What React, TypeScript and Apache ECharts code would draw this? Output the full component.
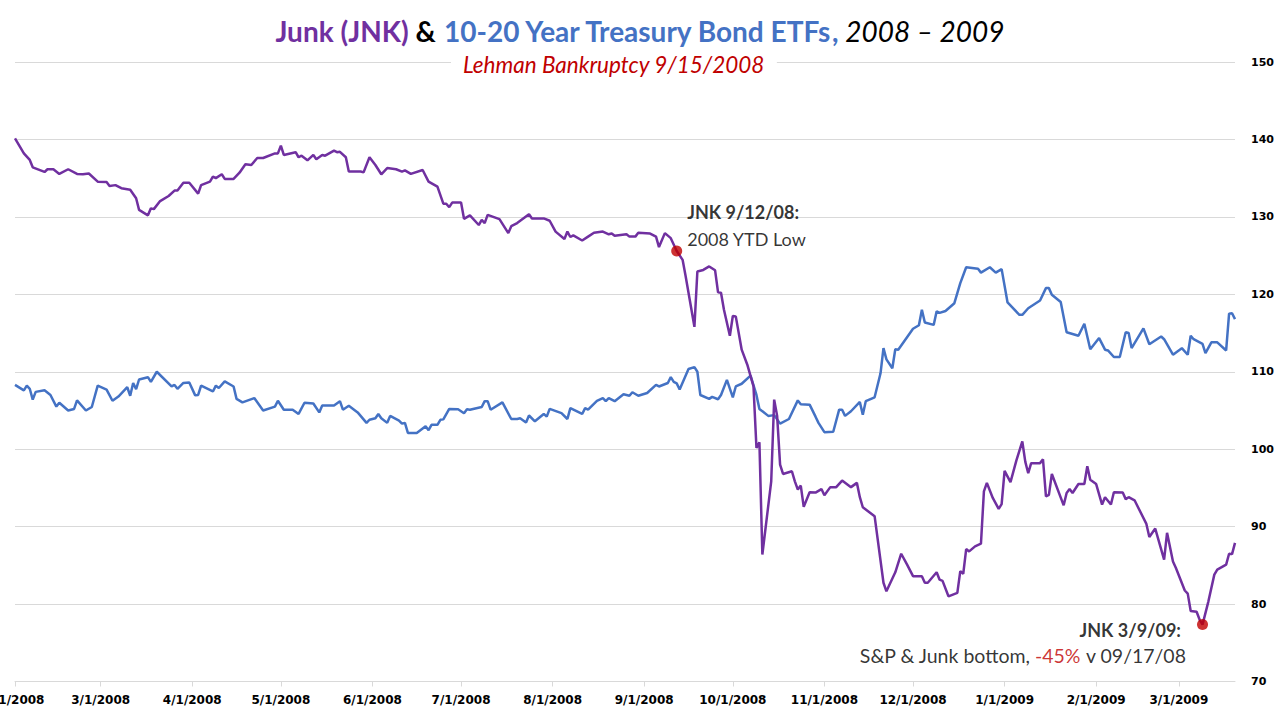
import React, { useEffect, useRef } from "react";
import * as echarts from "echarts";

// Day offsets are counted from the first day on the axis (Feb 1, 2008)
const START_DATE = "2008-02-01";
const END_DAY = 413; // Mar 20, 2009

const MONTH_TICKS = [
  "2008-02-01", "2008-03-01", "2008-04-01", "2008-05-01", "2008-06-01", "2008-07-01",
  "2008-08-01", "2008-09-01", "2008-10-01", "2008-11-01", "2008-12-01", "2009-01-01",
  "2009-02-01", "2009-03-01",
];

const JNK_DAYS = [
  0, 3, 5, 6, 10, 11, 13, 15, 18, 21, 23, 25, 28, 31, 32, 34, 36, 39, 41, 42, 45, 46, 47, 49, 52,
  54, 55, 57, 59, 62, 63, 66, 67, 68, 70, 71, 74, 76, 78, 80, 82, 84, 88, 89, 90, 91, 95, 96, 97,
  99, 101, 102, 104, 105, 108, 109, 110, 112, 113, 117, 118, 120, 122, 124, 126, 129, 131, 132,
  134, 138, 140, 143, 145, 146, 147, 148, 151, 152, 154, 157, 158, 159, 160, 164, 167, 168, 170,
  174, 175, 179, 181, 183, 186, 187, 188, 189, 192, 194, 196, 199, 201, 202, 203, 207, 208, 210,
  211, 215, 217, 218, 220, 222, 224, 226, 227, 230, 231, 233, 235, 237, 238, 239, 240, 242, 243,
  244, 246, 248, 250, 251, 252, 253, 256, 257, 258, 259, 260, 263, 264, 265, 266, 267, 269, 271,
  273, 274, 276, 278, 280, 283, 285, 286, 287, 291, 294, 295, 298, 300, 302, 304, 307, 308, 309,
  312, 313, 314, 316, 319, 320, 321, 322, 323, 325, 327, 328, 329, 331, 333, 334, 335, 337, 339,
  341, 342, 343, 344, 347, 348, 349, 350, 351, 355, 356, 357, 358, 360, 362, 363, 364, 366, 368,
  369, 371, 372, 375, 376, 377, 379, 383, 384, 386, 389, 390, 392, 393, 396, 397, 398, 400, 401,
  402, 404, 406, 407, 410, 411, 412, 413,
];
const JNK_VALUES = [
  140.15, 138.2, 137.35, 136.4, 135.8, 136.15, 136.15, 135.55, 136.15, 135.55, 135.5, 135.6,
  134.55, 134.5, 134.0, 134.1, 133.7, 133.5, 132.4, 130.9, 130.2, 131.1, 131.0, 132.0, 132.7,
  133.4, 133.4, 134.4, 134.4, 133.0, 134.1, 134.55, 135.2, 135.0, 135.5, 134.9, 134.9, 135.7,
  136.8, 136.7, 137.6, 137.6, 138.2, 138.2, 139.2, 138.0, 138.35, 137.7, 137.9, 137.3, 138.0,
  137.45, 138.0, 137.9, 138.55, 138.35, 138.4, 137.7, 135.85, 135.85, 135.75, 137.7, 136.7,
  135.5, 136.3, 136.15, 135.85, 136.0, 135.55, 136.05, 134.55, 133.9, 131.7, 131.7, 131.25,
  131.85, 131.85, 129.75, 130.2, 128.95, 129.6, 129.2, 130.25, 129.7, 127.9, 128.8, 129.2,
  130.35, 129.8, 129.8, 129.5, 128.1, 127.15, 128.1, 127.4, 127.6, 126.95, 127.45, 127.95,
  128.1, 127.75, 127.85, 127.55, 127.75, 127.45, 127.45, 127.95, 127.85, 127.45, 126.1, 127.9,
  127.25, 125.6, 124.45, 122.4, 115.8, 122.95, 123.15, 123.6, 123.1, 120.25, 120.2, 118.0,
  114.65, 117.2, 117.15, 112.85, 110.8, 108.1, 100.15, 100.9, 86.4, 95.85, 106.4, 104.3, 98.0,
  96.8, 97.15, 95.85, 94.8, 95.3, 92.55, 94.45, 94.4, 94.85, 94.05, 95.1, 95.1, 95.95, 95.1,
  95.65, 93.8, 92.5, 91.35, 82.75, 81.65, 84.1, 86.5, 85.1, 83.6, 83.6, 82.75, 82.75, 84.1,
  83.15, 83.0, 81.0, 81.45, 84.25, 83.9, 87.1, 86.8, 87.45, 87.8, 94.55, 95.65, 93.7, 92.3,
  92.9, 97.2, 95.75, 98.55, 101.0, 98.4, 96.9, 98.2, 98.2, 98.7, 93.9, 94.1, 96.8, 92.75, 94.35,
  94.85, 94.35, 95.5, 95.5, 97.8, 96.05, 95.5, 92.85, 93.8, 92.85, 94.45, 94.4, 93.55, 93.8,
  93.4, 90.35, 88.65, 89.75, 85.75, 89.2, 85.5, 84.65, 81.75, 81.35, 79.1, 79.0, 78.0, 77.35,
  80.35, 83.8, 84.45, 85.1, 86.5, 86.45, 87.9,
];

const TLH_DAYS = [
  0, 3, 4, 5, 6, 7, 10, 12, 14, 15, 18, 20, 21, 24, 26, 28, 31, 33, 35, 38, 39, 40, 41, 42, 45,
  46, 48, 53, 54, 55, 57, 59, 61, 62, 63, 67, 68, 69, 71, 74, 75, 77, 81, 84, 88, 89, 91, 94, 96,
  98, 101, 103, 104, 108, 110, 111, 113, 116, 119, 120, 122, 123, 124, 126, 127, 130, 131, 132,
  133, 136, 139, 140, 141, 143, 144, 145, 147, 150, 152, 153, 154, 158, 159, 160, 161, 165, 168,
  170, 171, 173, 174, 176, 179, 180, 181, 185, 187, 188, 192, 193, 194, 197, 199, 200, 201, 203,
  206, 208, 209, 211, 214, 217, 218, 221, 222, 223, 224, 225, 228, 230, 231, 232, 235, 236, 238,
  239, 241, 243, 244, 246, 249, 251, 252, 255, 257, 259, 262, 265, 266, 269, 271, 272, 274, 277,
  279, 280, 281, 283, 286, 287, 288, 291, 293, 294, 295, 297, 298, 299, 304, 306, 307, 308, 311,
  312, 313, 315, 318, 320, 322, 326, 327, 330, 332, 334, 336, 340, 341, 343, 347, 349, 350, 351,
  354, 356, 360, 362, 364, 367, 369, 370, 372, 374, 376, 377, 378, 382, 384, 388, 389, 392, 395,
  397, 398, 399, 402, 403, 405, 407, 410, 411, 412, 413,
];
const TLH_VALUES = [
  108.3, 107.6, 108.2, 107.8, 106.4, 107.4, 107.6, 107.0, 105.5, 106.0, 105.0, 105.2, 106.3,
  105.0, 105.45, 108.2, 107.7, 106.25, 106.8, 108.0, 106.9, 108.55, 107.75, 109.0, 109.3, 108.7,
  110.0, 108.1, 108.3, 107.8, 108.55, 108.6, 106.95, 107.0, 108.2, 107.45, 108.2, 107.9, 108.75,
  108.1, 106.5, 106.05, 106.6, 105.0, 105.5, 106.25, 105.1, 105.1, 104.55, 106.0, 105.9, 104.75,
  105.65, 105.65, 106.2, 105.1, 105.6, 104.75, 103.4, 103.8, 104.0, 104.55, 104.0, 103.4, 104.3,
  103.7, 103.3, 103.4, 102.1, 102.1, 102.95, 102.45, 103.15, 103.15, 103.8, 103.85, 105.2,
  105.15, 104.65, 105.15, 105.1, 105.45, 106.2, 106.2, 105.1, 106.05, 103.9, 103.9, 104.0,
  103.45, 104.35, 103.6, 104.55, 104.2, 105.2, 104.65, 103.9, 105.3, 104.55, 105.3, 105.1,
  106.25, 106.6, 106.2, 106.6, 106.2, 107.1, 106.9, 107.35, 106.9, 107.25, 108.3, 108.1, 108.55,
  109.3, 108.7, 108.5, 107.7, 110.35, 110.6, 110.0, 107.0, 106.5, 106.75, 106.45, 107.0, 108.95,
  106.7, 108.1, 108.45, 109.5, 107.0, 105.2, 104.3, 104.4, 103.3, 103.9, 106.3, 105.8, 105.75,
  104.2, 103.4, 102.2, 102.25, 105.1, 105.1, 104.3, 104.9, 106.1, 104.45, 106.2, 106.7, 109.8,
  113.05, 111.6, 110.45, 112.9, 112.85, 115.55, 116.0, 118.0, 116.35, 116.05, 117.8, 117.6,
  117.85, 118.85, 121.45, 123.5, 123.3, 122.8, 123.5, 122.8, 123.25, 118.95, 117.35, 117.35,
  118.2, 119.2, 120.8, 120.8, 119.95, 119.0, 115.1, 114.65, 116.2, 112.9, 114.35, 112.85, 112.75,
  111.9, 111.9, 115.1, 115.0, 113.05, 115.6, 113.55, 114.55, 114.2, 112.2, 113.05, 112.2, 114.65,
  114.2, 113.6, 112.4, 113.8, 113.8, 112.75, 117.5, 117.55, 116.8,
];

const MARKED_DATES = ["2008-09-12", "2009-03-09"];
const MARKED_VALUES = [125.6, 77.35];

const PURPLE = "#7030a0";
const BLUE = "#4472c4";
const RED = "#c00000";
const GRID = "#d9d9d9";
const TEXT_FONT = "Lato, 'Open Sans', sans-serif";
const AXIS_FONT = "'DejaVu Sans', Verdana, sans-serif";

function parseDate(s: string): Date {
  const [y, m, d] = s.split("-").map(Number);
  return new Date(y, m - 1, d);
}
function dayToTime(day: number): number {
  const b = parseDate(START_DATE);
  return new Date(b.getFullYear(), b.getMonth(), b.getDate() + day).getTime();
}
function fmtDate(v: number): string {
  const d = new Date(v);
  return `${d.getMonth() + 1}/${d.getDate()}/${d.getFullYear()}`;
}

export default function App() {
  const ref = useRef<HTMLDivElement>(null);
  useEffect(() => {
    if (!ref.current) return;
    const chart = echarts.init(ref.current, null, { renderer: "svg" });
    const monthTimes = MONTH_TICKS.map((s) => parseDate(s).getTime());
    const jnk = JNK_DAYS.map((d, i) => [dayToTime(d), JNK_VALUES[i]]);
    const tlh = TLH_DAYS.map((d, i) => [dayToTime(d), TLH_VALUES[i]]);
    const marked = MARKED_DATES.map((s, i) => [parseDate(s).getTime(), MARKED_VALUES[i]]);

    const annotStyle = {
      b: { fontFamily: TEXT_FONT, fontSize: 18, fontWeight: "bold", color: "#000" },
      n: { fontFamily: TEXT_FONT, fontSize: 18, color: "#000" },
      r: { fontFamily: TEXT_FONT, fontSize: 18, color: RED },
    };
    const annotStyle2 = {
      b: { fontFamily: TEXT_FONT, fontSize: 18, fontWeight: "bold", color: "#000", padding: [0, 5, 0, 0] },
      n: { fontFamily: TEXT_FONT, fontSize: 19.5, color: "#000" },
      r: { fontFamily: TEXT_FONT, fontSize: 19.5, color: RED },
    };

    chart.setOption({
      animation: false,
      backgroundColor: "#fff",
      title: [
        {
          text:
            "{p|Junk (JNK)} {k|&} {b|10-20 Year Treasury Bond ETFs}{b|,} {i|2008 – 2009}",
          left: "center",
          top: 12,
          textStyle: {
            fontFamily: TEXT_FONT,
            fontSize: 28,
            rich: {
              p: { color: PURPLE, fontWeight: "bold", fontSize: 28, fontFamily: TEXT_FONT },
              k: { color: "#000", fontWeight: "bold", fontSize: 28, fontFamily: TEXT_FONT },
              b: { color: BLUE, fontWeight: "bold", fontSize: 28, fontFamily: TEXT_FONT },
              i: { color: "#000", fontStyle: "italic", fontWeight: "normal", fontSize: 28, fontFamily: TEXT_FONT },
            },
          },
        },
        {
          text: "Lehman Bankruptcy 9/15/2008",
          left: 451,
          top: 51,
          backgroundColor: "#fff",
          padding: [2, 12, 2, 12],
          textStyle: {
            fontFamily: TEXT_FONT,
            fontSize: 22.5,
            fontStyle: "italic",
            fontWeight: "normal",
            color: RED,
          },
        },
      ],
      grid: { left: 15, right: 45, top: 62, bottom: 38.5, containLabel: false, outerBoundsMode: "none" },
      xAxis: {
        type: "value",
        min: dayToTime(0),
        max: dayToTime(END_DAY),
        axisLine: { show: true, lineStyle: { color: GRID, width: 1 } },
        axisTick: { show: true, length: 5, customValues: monthTimes, lineStyle: { color: GRID } },
        axisLabel: {
          customValues: monthTimes,
          formatter: (v: number) => fmtDate(v),
          fontFamily: AXIS_FONT,
          fontWeight: "bold",
          fontSize: 12,
          color: "#000",
          margin: 12,
          hideOverlap: false,
        },
        splitLine: { show: false },
      },
      yAxis: {
        type: "value",
        position: "right",
        min: 70,
        max: 150,
        interval: 10,
        axisLine: { show: false },
        axisTick: { show: false },
        axisLabel: {
          fontFamily: AXIS_FONT,
          fontWeight: "bold",
          fontSize: 11,
          color: "#000",
          margin: 16,
        },
        splitLine: { show: true, lineStyle: { color: GRID, width: 1 } },
      },
      series: [
        {
          name: "10-20 Year Treasury",
          type: "line",
          data: tlh,
          showSymbol: false,
          symbol: "none",
          lineStyle: { color: BLUE, width: 2.5 },
          z: 2,
        },
        {
          name: "Junk (JNK)",
          type: "line",
          data: jnk,
          showSymbol: false,
          symbol: "none",
          lineStyle: { color: PURPLE, width: 2.5 },
          z: 3,
        },
        {
          name: "Marked",
          type: "scatter",
          symbolSize: 11,
          itemStyle: { color: RED },
          z: 5,
          data: [
            {
              value: marked[0],
              label: {
                show: true,
                position: "right",
                distance: 5,
                offset: [0, -25],
                align: "left",
                lineHeight: 27,
                formatter: "{b|JNK 9/12/08:}\n{n|2008 YTD Low}",
                rich: annotStyle,
              },
            },
            {
              value: marked[1],
              label: {
                show: true,
                position: "left",
                distance: 11,
                offset: [0, 18],
                align: "right",
                lineHeight: 26,
                formatter: "{b|JNK 3/9/09:}\n{n|S&P & Junk bottom, }{r|-45%}{n| v 09/17/08}",
                rich: annotStyle2,
              },
            },
          ],
        },
      ],
    });
    return () => chart.dispose();
  }, []);
  return (
    <div
      ref={ref}
      style={{ position: "absolute", left: 0, top: 0, width: 1280, height: 720, background: "#fff" }}
    />
  );
}
